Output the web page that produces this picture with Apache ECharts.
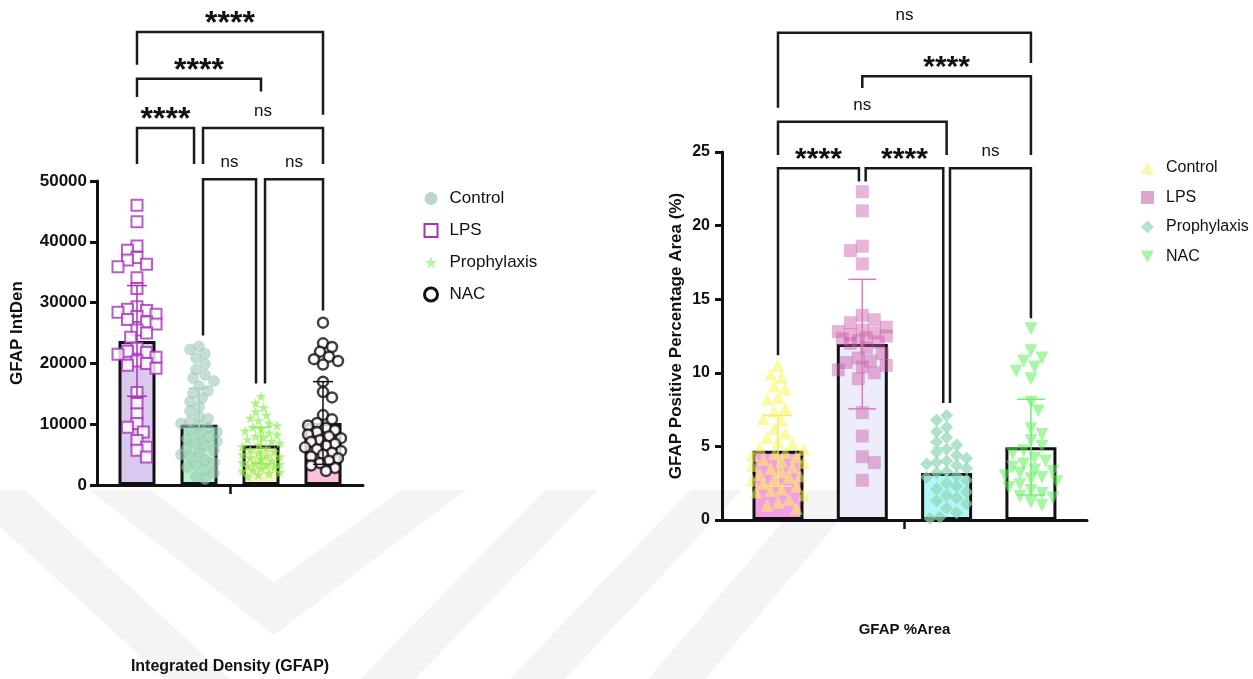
<!DOCTYPE html>
<html><head><meta charset="utf-8">
<script src="https://cdn.jsdelivr.net/npm/echarts@6/dist/echarts.min.js"></script>
<style>html,body{margin:0;padding:0;background:#fff;}#c{width:1253px;height:679px;}</style>
</head><body><div id="c"></div>
<script>
// ---------- LEFT CHART: Integrated Density (GFAP) ----------
const leftGroups = ['LPS', 'Control', 'Prophylaxis', 'NAC'];   // bar order (left to right)
const leftMeans = [23700, 9900, 6500, 10200];
const leftSD = [9100, 6000, 3000, 6800];
const leftLPS = [46000, 43300, 39300, 38600, 37400, 37000, 36300, 35900, 34100, 32300, 29300, 28900, 28700, 28400, 28100, 27700, 27200, 26800, 26500, 25500, 25000, 24300, 22500, 22000, 21800, 21500, 21000, 20400, 20000, 19700, 19200, 15200, 13400, 11700, 10100, 9500, 8700, 7300, 6200, 5700, 4600];
const leftControl = [22800, 22300, 21600, 20900, 19900, 19000, 18100, 17600, 17100, 16300, 15500, 15100, 14300, 13700, 12900, 12200, 11300, 10900, 10500, 10100, 9800, 9400, 9000, 8700, 8300, 7900, 7600, 7200, 6900, 6500, 6100, 5700, 5300, 5000, 4600, 4100, 3700, 3300, 2900, 2500, 2000, 1400, 1000];
const leftProphylaxis = [14600, 13500, 12800, 12100, 11500, 11000, 10600, 10200, 9800, 9500, 9200, 8900, 8600, 8300, 8000, 7800, 7500, 7200, 6900, 6600, 6300, 6100, 5800, 5500, 5300, 5000, 4800, 4700, 4500, 4300, 4000, 3700, 3600, 3400, 3200, 3100, 2900, 2800, 2500, 2300, 2100, 1900, 1700, 1400];
const leftNAC = [26700, 23300, 22700, 21900, 21100, 20700, 20400, 19800, 17000, 15300, 14400, 11500, 10800, 10200, 9800, 9400, 9000, 8700, 8300, 8000, 7700, 7400, 7100, 6800, 6500, 6200, 5900, 5600, 5300, 5000, 4700, 4400, 4000, 3600, 3200, 2800, 2300];
const leftTicks = [0, 10000, 20000, 30000, 40000, 50000];
// brackets: [xFrom, xTo, yBar, yLeftLegEnd, yRightLegEnd, label]
const leftBrackets = [
  [0, 3, 74500, 69100, 60900, '****'],
  [0, 2, 66800, 63800, 64700, '****'],
  [0, 0.92, 58700, 52800, 52800, '****'],
  [1.065, 3, 58700, 52800, 52800, 'ns'],
  [1.065, 1.92, 50300, 24600, 16700, 'ns'],
  [2.065, 3, 50300, 16700, 28700, 'ns']
];

// ---------- RIGHT CHART: GFAP %Area ----------
const rightGroups = ['Control', 'LPS', 'Prophylaxis', 'NAC'];
const rightMeans = [4.7, 11.95, 3.2, 4.95];
const rightSD = [2.4, 4.4, 1.7, 3.25];
const rightControl = [10.5, 9.9, 9.7, 9.1, 8.9, 8.3, 8.2, 7.6, 7.4, 6.9, 6.8, 6.2, 5.9, 5.6, 5.3, 5.2, 4.9, 4.8, 4.6, 4.5, 4.4, 4.3, 4.1, 4.0, 3.9, 3.7, 3.6, 3.5, 3.3, 3.1, 3.0, 2.9, 2.8, 2.7, 2.5, 2.3, 2.1, 2.0, 1.9, 1.7, 1.4, 1.2, 1.0, 0.8];
const rightLPS = [22.3, 21.0, 18.6, 18.3, 17.4, 13.9, 13.6, 13.4, 13.1, 12.9, 12.8, 12.7, 12.6, 12.5, 12.4, 12.3, 12.2, 12.1, 12.0, 11.7, 11.3, 11.0, 10.8, 10.7, 10.5, 10.4, 10.2, 10.0, 9.6, 7.3, 5.7, 4.3, 3.9, 2.7];
const rightProphylaxis = [7.1, 6.8, 6.3, 6.0, 5.6, 5.3, 5.1, 4.8, 4.6, 4.4, 4.2, 4.0, 3.9, 3.8, 3.7, 3.5, 3.3, 3.2, 3.0, 2.9, 2.7, 2.5, 2.3, 2.1, 1.9, 1.7, 1.5, 1.3, 1.1, 0.8, 0.5, 0.2, 0.1];
const rightNAC = [13.0, 11.5, 11.0, 10.8, 10.4, 10.1, 9.6, 8.0, 7.4, 6.2, 5.8, 5.4, 5.0, 4.7, 4.5, 4.2, 4.0, 3.8, 3.6, 3.4, 3.3, 3.2, 3.0, 2.9, 2.8, 2.6, 2.4, 2.2, 2.0, 1.8, 1.6, 1.5, 1.2, 1.0];
const rightTicks = [0, 5, 10, 15, 20, 25];
const rightBrackets = [
  [0, 3, 33.1, 28.0, 31.05, 'ns'],
  [1, 3, 30.15, 29.35, 24.8, '****'],
  [0, 2, 27.05, 24.8, 24.8, 'ns'],
  [0, 0.96, 23.9, 11.2, 23.0, '****'],
  [1.04, 1.96, 23.9, 23.0, 7.95, '****'],
  [2.04, 3, 23.9, 7.95, 13.7, 'ns']
];

// ---------- layout & styles ----------
const FONT = '"Liberation Sans", Arial, Helvetica, sans-serif';
const L = {left: 97, top: 181, width: 266, height: 304, xMin: -0.645, xMax: 3.645, yMax: 50000, bw: 37};
const R = {left: 722, top: 152, width: 365, height: 368, xMin: -0.664, xMax: 3.665, yMax: 25, bw: 51};
const leftBarColors = ['#dac9ee', '#b6f6ca', '#f8f3c8', '#fcc0dc'];
const rightBarColors = ['#f59ee6', '#ececfb', '#b0f7f7', '#ffffff'];
const starPath = 'path://M50,0 L61,35 L98,35 L68,57 L79,91 L50,70 L21,91 L32,57 L2,35 L39,35 Z';
const downTri = 'path://M0,0 L100,0 L50,87 Z';

// deterministic beeswarm layout of points around each bar center
function swarm(values, idx, G, d, maxHalf) {
  const pxY = G.height / G.yMax;
  const pxX = G.width / (G.xMax - G.xMin);
  const order = values.map((v, i) => i).sort((a, b) => values[b] - values[a]);
  const placed = [], res = new Array(values.length);
  const step = d / 3;
  order.forEach((i, n) => {
    const y = values[i] * pxY;
    let best = 0, bestScore = -1;
    const signs = n % 2 ? [-1, 1] : [1, -1];
    outer:
    for (let k = 0; k * step <= maxHalf; k++) {
      for (const s of (k === 0 ? [1] : signs)) {
        const x = s * k * step;
        let minD = Infinity;
        for (const p of placed) { const dd = Math.hypot(p[0] - x, p[1] - y); if (dd < minD) minD = dd; }
        if (minD >= d) { best = x; bestScore = Infinity; break outer; }
        if (minD > bestScore) { bestScore = minD; best = x; }
      }
    }
    placed.push([best, y]);
    res[i] = [idx + best / pxX, values[i]];
  });
  return res;
}

function bracketSeries(brackets, xi, starSize) {
  return {
    type: 'custom', xAxisIndex: xi, yAxisIndex: xi, clip: false, silent: true, z: 10,
    data: brackets.map(b => [b[0], b[2]]),
    renderItem: (params, api) => {
      const b = brackets[params.dataIndex];
      const p1 = api.coord([b[0], b[3]]), p2 = api.coord([b[0], b[2]]);
      const p3 = api.coord([b[1], b[2]]), p4 = api.coord([b[1], b[4]]);
      const star = b[5] !== 'ns';
      return {type: 'group', children: [
        {type: 'polyline', shape: {points: [p1, p2, p3, p4]}, style: {stroke: '#1a1a1a', lineWidth: 2.5, fill: null}},
        {type: 'text', x: (p2[0] + p3[0]) / 2, y: p2[1] - (star ? 8 : 17),
         style: {text: b[5], fill: '#111', align: 'center', verticalAlign: 'middle',
                 font: star ? ('bold ' + starSize + 'px ' + FONT) : ('17px ' + FONT)}}
      ]};
    }
  };
}

function errorSeries(means, sds, colors, xi, cap) {
  return {
    type: 'custom', xAxisIndex: xi, yAxisIndex: xi, clip: false, silent: true, z: 6,
    data: means.map((m, i) => [i, m, sds[i]]),
    renderItem: (params, api) => {
      const x = api.value(0), m = api.value(1), s = api.value(2);
      const top = api.coord([x, m + s]), bot = api.coord([x, m - s]);
      const st = {stroke: colors[params.dataIndex], lineWidth: 1.5};
      return {type: 'group', children: [
        {type: 'line', shape: {x1: top[0], y1: top[1], x2: bot[0], y2: bot[1]}, style: st},
        {type: 'line', shape: {x1: top[0] - cap, y1: top[1], x2: top[0] + cap, y2: top[1]}, style: st},
        {type: 'line', shape: {x1: bot[0] - cap, y1: bot[1], x2: bot[0] + cap, y2: bot[1]}, style: st}
      ]};
    }
  };
}

function xAxis(G, gi, name, gap) {
  return {type: 'value', gridIndex: gi, min: G.xMin, max: G.xMax,
    axisLine: {show: true, onZero: false, lineStyle: {color: '#111', width: 3}},
    axisTick: {show: true, customValues: [1.5], length: 9, lineStyle: {color: '#111', width: 2.5}},
    axisLabel: {show: false}, splitLine: {show: false},
    name: name, nameLocation: 'middle', nameGap: gap,
    nameTextStyle: {fontFamily: FONT, fontWeight: 'bold', fontSize: gi ? 15 : 16, color: '#111'}};
}
function yAxis(G, gi, ticks, name, gap, fs, margin, nfs) {
  return {type: 'value', gridIndex: gi, min: ticks[0], max: ticks[ticks.length - 1],
    interval: ticks[1] - ticks[0],
    axisLine: {show: true, onZero: false, lineStyle: {color: '#111', width: 3}},
    axisTick: {show: true, length: 7, lineStyle: {color: '#111', width: 3}},
    axisLabel: {fontFamily: FONT, fontWeight: 'bold', fontSize: fs, color: '#111', margin: margin,
                formatter: v => String(v)},
    splitLine: {show: false},
    name: name, nameLocation: 'middle', nameGap: gap, nameRotate: 90,
    nameTextStyle: {fontFamily: FONT, fontWeight: 'bold', fontSize: nfs, color: '#111'}};
}

const leftScatter = [
  {name: 'LPS', data: swarm(leftLPS, 0, L, 9.5, 21), symbol: 'rect', symbolSize: 11,
   itemStyle: {color: '#ffffff', borderColor: '#a833b9', borderWidth: 2}},
  {name: 'Control', data: swarm(leftControl, 1, L, 9, 19), symbol: 'circle', symbolSize: 11,
   itemStyle: {color: '#9ecab8', opacity: 0.6, borderColor: '#8fbfac', borderWidth: 0.5}},
  {name: 'Prophylaxis', data: swarm(leftProphylaxis, 2, L, 8, 20), symbol: starPath, symbolSize: 11,
   itemStyle: {color: '#8cf04f', opacity: 0.7}},
  {name: 'NAC', data: swarm(leftNAC, 3, L, 9, 19), symbol: 'circle', symbolSize: 10,
   itemStyle: {color: '#ffffff', borderColor: '#111', borderWidth: 2.5}}
].map(s => Object.assign({type: 'scatter', xAxisIndex: 0, yAxisIndex: 0, z: 4, silent: true}, s));

const rightScatter = [
  {name: 'Control', data: swarm(rightControl, 0, R, 11, 27), symbol: 'triangle', symbolSize: 13,
   itemStyle: {color: '#f5f558', opacity: 0.55}},
  {name: 'LPS', data: swarm(rightLPS, 1, R, 12, 27), symbol: 'rect', symbolSize: 13,
   itemStyle: {color: '#cc5aa8', opacity: 0.45}},
  {name: 'Prophylaxis', data: swarm(rightProphylaxis, 2, R, 10, 26), symbol: 'diamond', symbolSize: 13,
   itemStyle: {color: '#8fd6b5', opacity: 0.7}},
  {name: 'NAC', data: swarm(rightNAC, 3, R, 11, 27), symbol: downTri, symbolSize: 13,
   itemStyle: {color: '#5ef05e', opacity: 0.55}}
].map(s => Object.assign({type: 'scatter', xAxisIndex: 1, yAxisIndex: 1, z: 4, silent: true}, s));

const wm = '#f4f4f4';
const watermark = [
  [[-40, 490], [25, 490], [230, 679], [165, 679]],
  [[89, 490], [150, 490], [274, 583], [402, 490], [466, 490], [274, 635]],
  [[545, 490], [598, 490], [415, 679], [360, 679]],
  [[690, 490], [742, 490], [565, 679], [510, 679]],
  [[810, 490], [865, 490], [705, 679], [648, 679]]
].map(pts => ({type: 'polygon', shape: {points: pts}, style: {fill: wm}, z: -10, silent: true}));

const chart = echarts.init(document.getElementById('c'), null, {renderer: 'canvas'});
chart.setOption({
  backgroundColor: '#ffffff',
  animation: false,
  graphic: watermark,
  grid: [
    {left: L.left, top: L.top, width: L.width, height: L.height},
    {left: R.left, top: R.top, width: R.width, height: R.height}
  ],
  xAxis: [xAxis(L, 0, 'Integrated Density (GFAP)', 174), xAxis(R, 1, 'GFAP %Area', 102)],
  yAxis: [yAxis(L, 0, leftTicks, 'GFAP IntDen', 71, 17, 10, 17),
          yAxis(R, 1, rightTicks, 'GFAP Positive Percentage Area (%)', 37, 16, 12, 17)],
  legend: [
    {orient: 'vertical', left: 418, top: 185, itemWidth: 13, itemHeight: 13, itemGap: 15,
     selectedMode: false,
     textStyle: {fontFamily: FONT, fontSize: 17, color: '#111', padding: [0, 0, 0, 7]},
     data: [
       {name: 'Control', icon: 'circle', itemStyle: {color: '#b7d8ca', opacity: 1, borderWidth: 0}},
       {name: 'LPS', icon: 'rect', itemStyle: {color: '#ffffff', borderColor: '#a833b9', borderWidth: 2, opacity: 1}},
       {name: 'Prophylaxis', icon: starPath, itemStyle: {color: '#b8f5a2', opacity: 1, borderWidth: 0}},
       {name: 'NAC', icon: 'circle', itemStyle: {color: '#ffffff', borderColor: '#111', borderWidth: 3, opacity: 1}}
     ]},
    {orient: 'vertical', left: 1136, top: 155, itemWidth: 13, itemHeight: 13, itemGap: 13.5,
     selectedMode: false,
     textStyle: {fontFamily: FONT, fontSize: 16, color: '#111', padding: [0, 0, 0, 7]},
     data: [
       {name: 'Control', icon: 'triangle', itemStyle: {color: '#f8f8b0', opacity: 1, borderWidth: 0}},
       {name: 'LPS', icon: 'rect', itemStyle: {color: '#dfa6d0', opacity: 1, borderWidth: 0}},
       {name: 'Prophylaxis', icon: 'diamond', itemStyle: {color: '#b5e3cf', opacity: 1, borderWidth: 0}},
       {name: 'NAC', icon: downTri, itemStyle: {color: '#a2f5a2', opacity: 1, borderWidth: 0}}
     ]}
  ],
  series: [
    {type: 'bar', name: 'bars-left', xAxisIndex: 0, yAxisIndex: 0, barWidth: L.bw, z: 1, silent: true,
     itemStyle: {borderColor: '#111', borderWidth: 3},
     data: leftMeans.map((m, i) => ({value: [i, m], itemStyle: {color: leftBarColors[i]}}))},
    {type: 'bar', name: 'bars-right', xAxisIndex: 1, yAxisIndex: 1, barWidth: R.bw, z: 1, silent: true,
     itemStyle: {borderColor: '#111', borderWidth: 3},
     data: rightMeans.map((m, i) => ({value: [i, m], itemStyle: {color: rightBarColors[i]}}))},
    ...leftScatter,
    ...rightScatter,
    errorSeries(leftMeans, leftSD, ['#a833b9', '#a9d2c2', '#8cf04f', '#111111'], 0, 10),
    errorSeries(rightMeans, rightSD, ['#f2ec70', '#d67ab8', '#a8e0c8', '#6ef06e'], 1, 14),
    bracketSeries(leftBrackets, 0, 32),
    bracketSeries(rightBrackets, 1, 30)
  ]
});
</script>
</body></html>
